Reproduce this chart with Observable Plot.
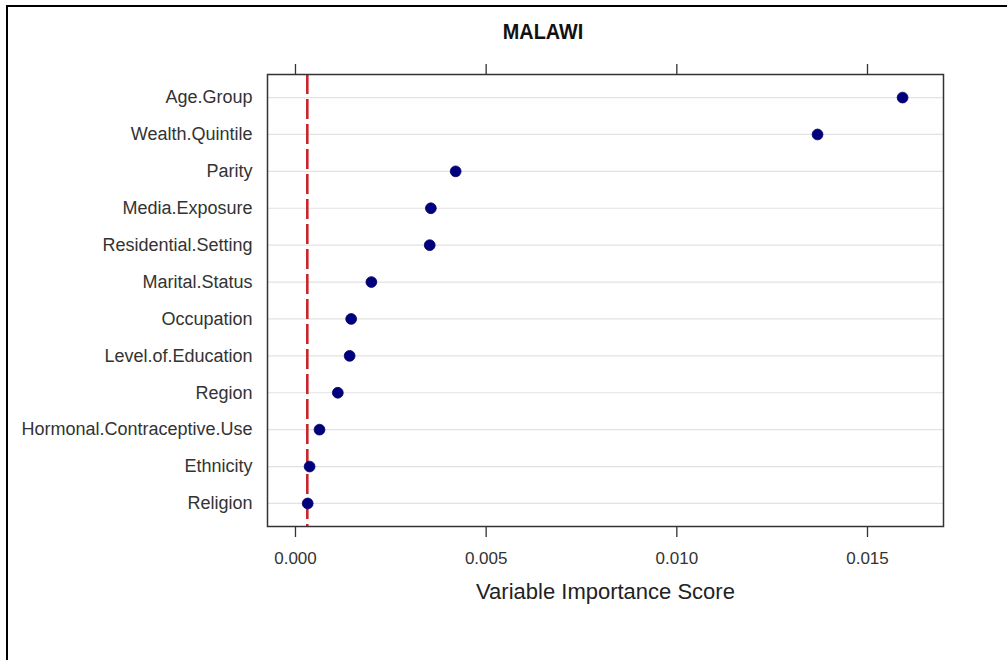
<!DOCTYPE html>
<html>
<head>
<meta charset="utf-8">
<script src="https://cdn.jsdelivr.net/npm/d3@7"></script>
<script src="https://cdn.jsdelivr.net/npm/@observablehq/plot@0.6"></script>
<style>
  html, body { margin: 0; padding: 0; background: #fff; }
  #wrap { position: relative; width: 1007px; height: 660px; overflow: hidden; background: #fff; }
  #border { position: absolute; left: 6px; top: 5px; width: 1100px; height: 800px;
            border-top: 2px solid #000; border-left: 2px solid #000; box-sizing: border-box; }
  #title { position: absolute; left: 443px; width: 200px; top: 19px; text-align: center;
           font-family: "Liberation Sans", Arial, sans-serif; font-weight: bold; font-size: 22px; color: #111;
           transform: scaleX(0.9); transform-origin: 100px 0; line-height: 26px; }
  #chart { position: absolute; left: 0; top: 0; }
</style>
</head>
<body>
<div id="wrap">
  <div id="chart"></div>
  <div id="border"></div>
  <div id="title">MALAWI</div>
</div>
<script>
// Variables, top to bottom
const variables = [
  "Age.Group", "Wealth.Quintile", "Parity", "Media.Exposure", "Residential.Setting",
  "Marital.Status", "Occupation", "Level.of.Education", "Region",
  "Hormonal.Contraceptive.Use", "Ethnicity", "Religion"
];
const scores = [
  0.01592, 0.01369, 0.00420, 0.00355, 0.00352,
  0.00199, 0.00146, 0.00142, 0.00111,
  0.00063, 0.00037, 0.00032
];
const threshold = 0.00031;
const xTicks = [0, 0.005, 0.010, 0.015];
const xDomain = [-0.000734, 0.016993];
const axisTitle = "Variable Importance Score";

const data = variables.map((v, i) => ({variable: v, score: scores[i]}));

const chart = Plot.plot({
  width: 1007,
  height: 660,
  marginLeft: 267,
  marginRight: 64,
  marginTop: 74,
  marginBottom: 134,
  style: {fontFamily: "Liberation Sans, Arial, sans-serif", color: "#333", background: "transparent"},
  x: {domain: xDomain},
  y: {type: "point", domain: variables, padding: 0.625, round: false},
  marks: [
    Plot.gridY(variables, {stroke: "#e2e2e2", strokeOpacity: 1, strokeWidth: 1.2}),
    Plot.axisY({tickSize: 0, tickPadding: 15, fontSize: 18, label: null}),
    Plot.axisX({anchor: "bottom", ticks: xTicks, tickFormat: d3.format(".3f"), tickSize: 11, tickPadding: 14, fontSize: 17, label: null, strokeWidth: 1.3}),
    Plot.axisX({anchor: "top", ticks: xTicks, tickFormat: () => "", tickSize: 11, label: null, strokeWidth: 1.3}),
    Plot.ruleX([threshold], {stroke: "#c8262c", strokeWidth: 2.6, strokeDasharray: "20,5"}),
    Plot.dot(data, {x: "score", y: "variable", r: 5.4, fill: "#00007f", stroke: "#000060", strokeWidth: 0.8}),
    Plot.text([axisTitle], {frameAnchor: "bottom", dy: 72, fontSize: 22, fill: "#222"}),
    Plot.frame({stroke: "#333", strokeWidth: 1.5})
  ]
});
document.getElementById("chart").appendChild(chart);
</script>
</body>
</html>
